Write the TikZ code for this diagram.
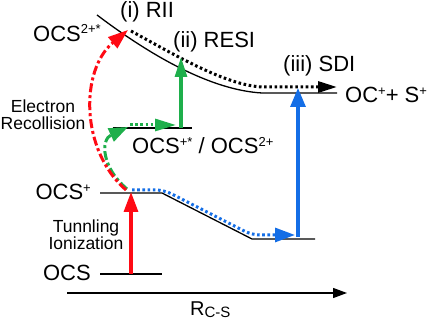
\documentclass[tikz,border=0pt]{standalone}
\usepackage{fontspec}
\setmainfont{Liberation Sans}
\usetikzlibrary{arrows.meta}
\definecolor{cred}{RGB}{255,10,20}
\definecolor{cgreen}{RGB}{30,175,75}
\definecolor{cblue}{RGB}{20,110,230}
\newcommand\sups[1]{\raisebox{7.5pt}{\fontsize{13}{13}\selectfont #1}}
\newcommand\subs[1]{\raisebox{-2pt}{\fontsize{15}{15}\selectfont #1}}
\begin{document}
\begin{tikzpicture}[x=1pt,y=-1pt,
  lvl/.style={line width=1.3pt},
  lbl/.style={inner sep=0pt,font=\fontsize{22}{24}\selectfont},
  small/.style={inner sep=0pt,font=\fontsize{17.5}{17}\selectfont,align=center},
  dots/.style={line width=3pt,dash pattern=on 2.6pt off 2.6pt},
  dashdot/.style={line width=3pt,dash pattern=on 9pt off 3pt on 3pt off 3pt},
  solidarrow/.style={line width=3.2pt}
]
\useasboundingbox (0,0) rectangle (429,320);

% coordinates
\coordinate (ocsL) at (100,274);
\coordinate (ocsR) at (162,274);
\coordinate (ionL) at (100,193);
\coordinate (ionR) at (162,193);
\coordinate (ionS) at (252,239);
\coordinate (ionE) at (315,239);
\coordinate (exL) at (113,128);
\coordinate (exR) at (192,128);
\coordinate (upA) at (97,15);
\coordinate (upB) at (262,93);
\coordinate (upC) at (337,93);
\coordinate (tiA) at (131,274);
\coordinate (tiB) at (131,192);
\coordinate (rcA) at (126,190);
\coordinate (rcB) at (128,30);
\coordinate (gcA) at (127,189);
\coordinate (gcB) at (128,127);
\coordinate (gdA) at (130,125);
\coordinate (gdB) at (176,125);
\coordinate (gvA) at (181,128);
\coordinate (gvB) at (181,57);
\coordinate (bdA) at (132,190);
\coordinate (bdB) at (164,190);
\coordinate (bdC) at (252,235);
\coordinate (bdD) at (295,235);
\coordinate (bvA) at (298,237);
\coordinate (bvB) at (298,88);
\coordinate (kdA) at (131,31);
\coordinate (kdB) at (262,87);
\coordinate (kdC) at (337,87);
\coordinate (axA) at (67,293);
\coordinate (axB) at (347,293);

% levels and curves
\draw[lvl] (ocsL) -- (ocsR);
\draw[lvl] (ionL) -- (ionR) -- (ionS) -- (ionE);
\draw[lvl] (exL) -- (exR);
\draw[lvl] (upA) .. controls (150,55) and (210,90) .. (upB) -- (upC);
\draw[lvl,-{Triangle[length=14pt,width=10pt]}] (axA) -- (axB);

% black dotted
\draw[dots,-{Triangle[length=19pt,width=11pt]}] (kdA) .. controls (175,55) and (225,85) .. (kdB) -- (kdC);

% blue
\draw[dots,cblue,rounded corners=8pt,-{Triangle[length=20pt,width=14pt]}] (bdA) -- (bdB) -- (bdC) -- (bdD);
\draw[solidarrow,cblue,-{Triangle[length=19pt,width=15pt]}] (bvA) -- (bvB);

% green
\draw[dashdot,cgreen,-{Triangle[length=19pt,width=14pt]}] (gcA) .. controls (102,168) and (100,140) .. (gcB);
\draw[dots,cgreen,-{Triangle[length=21pt,width=12pt]}] (gdA) -- (gdB);
\draw[solidarrow,cgreen,-{Triangle[length=20pt,width=12pt]}] (gvA) -- (gvB);

% red
\draw[dashdot,cred,-{Triangle[length=20pt,width=14pt]}] (rcA) .. controls (80,150) and (80,70) .. (rcB);
\draw[solidarrow,cred,-{Triangle[length=20pt,width=14pt]}] (tiA) -- (tiB);

% labels
\node[lbl,anchor=base east] (tOCS) at (91,281) {OCS};
\node[lbl,anchor=base east] (tOCSp) at (91,200) {OCS\sups{+}};
\node[lbl,anchor=base west] (tOCSpp) at (33,41.5) {OCS\sups{2+*}};
\node[lbl,anchor=base west] (tRII) at (120,17.5) {(i) RII};
\node[lbl,anchor=base west] (tRESI) at (173,47.5) {(ii) RESI};
\node[lbl,anchor=base west] (tSDI) at (283,72) {(iii) SDI};
\node[lbl,anchor=base west] (tOCS2) at (345,103) {OC\sups{+}+ S\sups{+}};
\node[lbl,anchor=base west] (tEx) at (132,154) {OCS\sups{+*} / OCS\sups{2+}};
\node[lbl,anchor=base west,font=\fontsize{20}{22}\selectfont] (tR) at (190,316) {R\subs{C-S}};
\node[small] (tER) at (43,115) {Electron\\Recollision};
\node[small] (tTI) at (86,234.5) {Tunnling\\Ionization};
\end{tikzpicture}
\end{document}
